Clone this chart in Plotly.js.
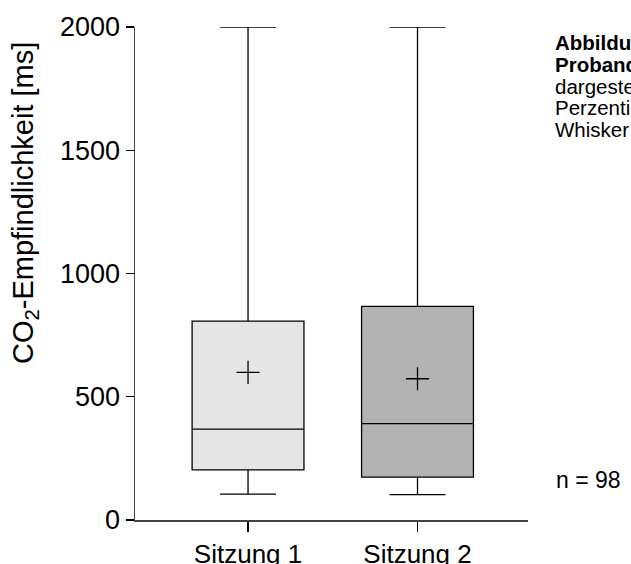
<!DOCTYPE html>
<html>
<head>
<meta charset="utf-8">
<script src="https://cdn.plot.ly/plotly-3.0.1.min.js"></script>
<style>html,body{margin:0;padding:0;background:#fff;overflow:hidden}</style>
</head>
<body>
<div id="chart" style="width:631px;height:564px"></div>
<script>
// Data
const categories = ["Sitzung 1", "Sitzung 2"];
const lowerWhisker = [105, 103];
const q1Values = [203, 174];
const medianValues = [369, 391];
const q3Values = [807, 867];
const upperWhisker = [2000, 2000];
const meanValues = [599, 573];
const fillColors = ["#e5e5e5", "#b3b3b3"];
const yTickVals = [0, 500, 1000, 1500, 2000];
const yTitle = "CO<sub>2</sub>-Empfindlichkeit [ms]";
const noteLines = [
  {text: "<b>Abbildung</b>", y: 42},
  {text: "<b>Probanden</b>", y: 64},
  {text: "dargestellt", y: 86},
  {text: "Perzentile", y: 107.5},
  {text: "Whisker", y: 129}
];
const sampleSize = "n = 98";

const FONT = "Liberation Sans, Arial, Helvetica, sans-serif";
const plotLeft = 135, plotRight = 528, plotTop = 27, plotBottom = 520;
const W = 631, H = 564;
const pw = plotRight - plotLeft, ph = plotBottom - plotTop;
const px2paperX = x => (x - plotLeft) / pw;
const px2paperY = y => (plotBottom - y) / ph;

const traces = categories.map((c, i) => ({
  type: "box",
  x: [c],
  q1: [q1Values[i]],
  median: [medianValues[i]],
  q3: [q3Values[i]],
  lowerfence: [lowerWhisker[i]],
  upperfence: [upperWhisker[i]],
  fillcolor: fillColors[i],
  line: {color: "#000", width: 1.3},
  width: 0.66,
  whiskerwidth: 0.5,
  boxpoints: false,
  hoverinfo: "skip",
  showlegend: false
}));

traces.push({
  type: "scatter",
  mode: "markers",
  x: categories,
  y: meanValues,
  marker: {symbol: "cross-thin", size: 16.5, color: "#000", line: {color: "#000", width: 1.3}},
  hoverinfo: "skip",
  showlegend: false
});

const annotations = noteLines.map(l => ({
  xref: "paper", yref: "paper",
  x: px2paperX(553), y: px2paperY(l.y),
  xanchor: "left", yanchor: "middle",
  text: l.text, showarrow: false,
  font: {family: FONT, size: 20.5, color: "#000"}
}));
annotations.push({
  xref: "paper", yref: "paper",
  x: px2paperX(554), y: px2paperY(480),
  xanchor: "left", yanchor: "middle",
  text: sampleSize, showarrow: false,
  font: {family: FONT, size: 23, color: "#000"}
});
annotations.push({
  xref: "paper", yref: "paper",
  x: px2paperX(25), y: px2paperY(203),
  xanchor: "center", yanchor: "middle",
  textangle: -90,
  text: yTitle, showarrow: false,
  font: {family: FONT, size: 29, color: "#000"}
});

const layout = {
  width: W, height: H,
  margin: {l: plotLeft, r: W - plotRight, t: plotTop, b: H - plotBottom, pad: 0},
  paper_bgcolor: "#fff", plot_bgcolor: "#fff",
  font: {family: FONT, color: "#000"},
  showlegend: false,
  xaxis: {
    type: "category",
    range: [-0.667, 1.652],
    showline: true, linecolor: "#444", linewidth: 1.5,
    ticks: "outside", ticklen: 10, tickwidth: 1.3, tickcolor: "#000",
    showgrid: false, zeroline: false,
    tickfont: {family: FONT, size: 26, color: "#000"},
    fixedrange: true
  },
  yaxis: {
    range: [0, 2000],
    tickvals: yTickVals,
    showline: true, linecolor: "#444", linewidth: 1.5,
    ticks: "outside", ticklen: 8, tickwidth: 1.3, tickcolor: "#000",
    showgrid: false, zeroline: false,
    tickfont: {family: FONT, size: 27, color: "#000"},
    fixedrange: true
  },
  annotations: annotations
};

Plotly.newPlot("chart", traces, layout, {staticPlot: true, displayModeBar: false});
</script>
</body>
</html>
